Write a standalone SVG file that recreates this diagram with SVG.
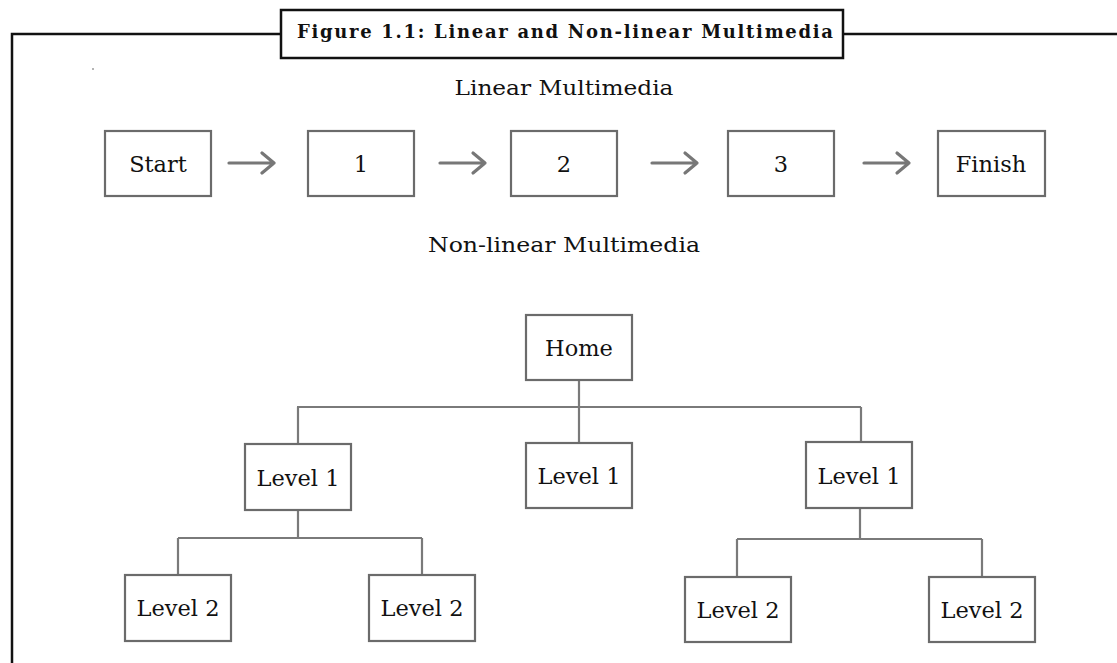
<svg xmlns="http://www.w3.org/2000/svg" width="1117" height="663" viewBox="0 0 1117 663">
<style>
.box{fill:#fff;stroke:#6b6b6b;stroke-width:2.2}
.lbl{font-family:"DejaVu Serif","Liberation Serif",serif;font-size:22.5px;fill:#111;text-anchor:middle}
.head{font-family:"DejaVu Serif","Liberation Serif",serif;font-size:21px;fill:#111;text-anchor:middle}
.conn{stroke:#7a7a7a;stroke-width:2.2;fill:none}
.arr{stroke:#777;stroke-width:3.2;fill:none;stroke-linecap:round;stroke-linejoin:round}
</style>
<rect width="1117" height="663" fill="#fff"/>
<g id="frame">
<path d="M12,663 V34 H281 M843,34 H1117" fill="none" stroke="#111" stroke-width="2.5"/>
<rect x="281" y="10" width="562" height="48" fill="#fff" stroke="#111" stroke-width="2.5"/>
<text x="565" y="38" font-family="DejaVu Serif,Liberation Serif,serif" font-weight="bold" font-size="18" fill="#111" text-anchor="middle" textLength="536" lengthAdjust="spacing">Figure 1.1: Linear and Non-linear Multimedia</text>
<circle cx="93" cy="69" r="0.8" fill="#555"/>
</g>
<text class="head" x="564" y="95" textLength="219" lengthAdjust="spacingAndGlyphs">Linear Multimedia</text>
<text class="head" x="564" y="252" textLength="272" lengthAdjust="spacingAndGlyphs">Non-linear Multimedia</text>
<g id="connectors">
<path class="arr" d="M229,163 H274 M262,153 L274,163 L262,173"/>
<path class="arr" d="M440,163 H485 M473,153 L485,163 L473,173"/>
<path class="arr" d="M652,163 H697 M685,153 L697,163 L685,173"/>
<path class="arr" d="M864,163 H909 M897,153 L909,163 L897,173"/>
<path class="conn" d="M579,380 V443 M297,407 H861 M298,407 V444 M861,407 V442"/>
<path class="conn" d="M298,510 V538 M178,538 H422 M178,538 V575 M422,538 V575"/>
<path class="conn" d="M860,508 V539 M737,539 H982 M737,539 V577 M982,539 V577"/>
</g>
<g id="n-start"><rect class="box" x="105" y="131" width="106" height="65"/><text class="lbl" x="158" y="172">Start</text></g>
<g id="n-1"><rect class="box" x="308" y="131" width="106" height="65"/><text class="lbl" x="361" y="172">1</text></g>
<g id="n-2"><rect class="box" x="511" y="131" width="106" height="65"/><text class="lbl" x="564" y="172">2</text></g>
<g id="n-3"><rect class="box" x="728" y="131" width="106" height="65"/><text class="lbl" x="781" y="172">3</text></g>
<g id="n-finish"><rect class="box" x="938" y="131" width="107" height="65"/><text class="lbl" x="991" y="172">Finish</text></g>
<g id="n-home"><rect class="box" x="526" y="315" width="106" height="65"/><text class="lbl" x="579" y="356">Home</text></g>
<g id="n-l1a"><rect class="box" x="245" y="444" width="106" height="66"/><text class="lbl" x="298" y="486">Level 1</text></g>
<g id="n-l1b"><rect class="box" x="526" y="443" width="106" height="65"/><text class="lbl" x="579" y="484">Level 1</text></g>
<g id="n-l1c"><rect class="box" x="806" y="442" width="106" height="66"/><text class="lbl" x="859" y="484">Level 1</text></g>
<g id="n-l2a"><rect class="box" x="125" y="575" width="106" height="66"/><text class="lbl" x="178" y="616">Level 2</text></g>
<g id="n-l2b"><rect class="box" x="369" y="575" width="106" height="66"/><text class="lbl" x="422" y="616">Level 2</text></g>
<g id="n-l2c"><rect class="box" x="685" y="577" width="106" height="65"/><text class="lbl" x="738" y="618">Level 2</text></g>
<g id="n-l2d"><rect class="box" x="929" y="577" width="106" height="65"/><text class="lbl" x="982" y="618">Level 2</text></g>
</svg>
